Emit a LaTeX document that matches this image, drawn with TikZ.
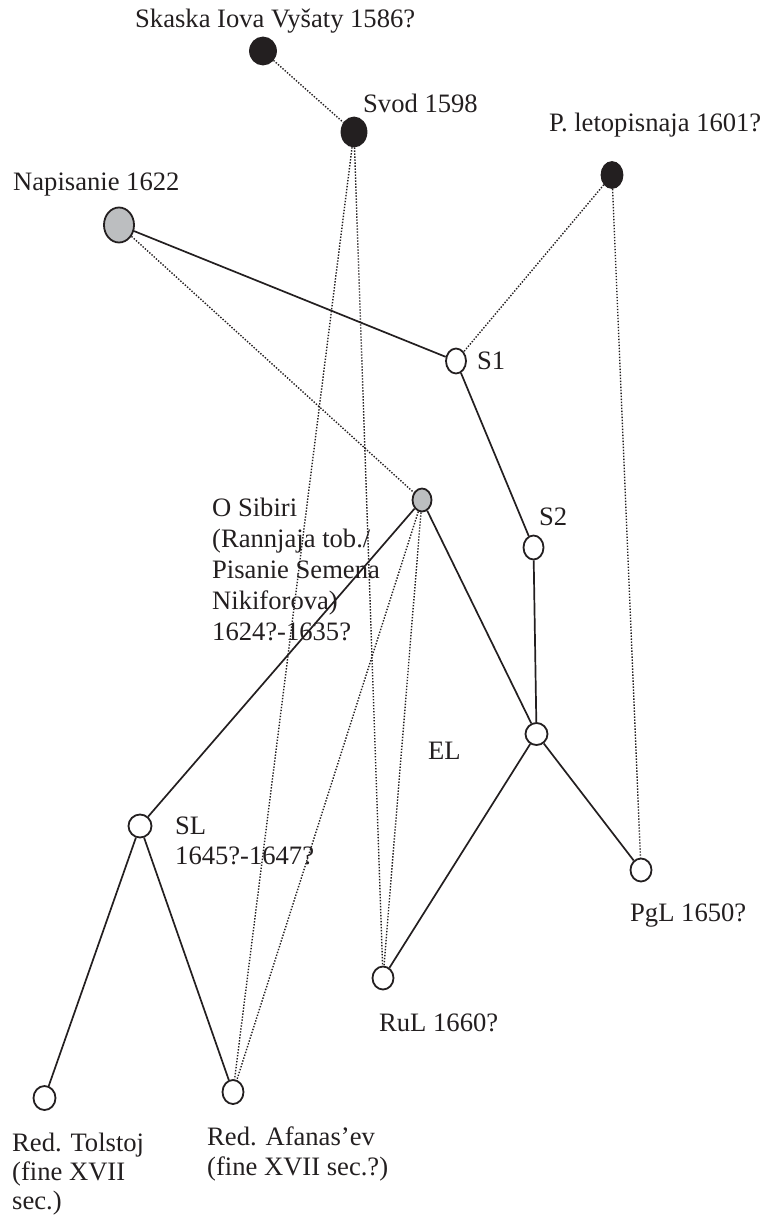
\documentclass[tikz,border=0pt]{standalone}
\usepackage{fontspec}
\setmainfont{Liberation Serif}
\usetikzlibrary{shapes.geometric}
\definecolor{ink}{HTML}{231F20}
\definecolor{shade}{HTML}{BCBEC0}
% stacked left-aligned lines whose baseline is that of the first line
\newcommand\stackedlines[2]{\vtop{\baselineskip=#1\lineskiplimit=-10pt\halign{##\hfil\cr #2\crcr}}}
\tikzset{
  ms/.style={ellipse, draw=ink, line width=1.8pt, inner sep=0pt},
  lost/.style={ms, fill=ink},
  grey/.style={ms, fill=shade},
  kept/.style={ms, fill=white},
  lbl/.style={anchor=base west, inner sep=0pt, text=ink,
              font=\fontsize{26.6pt}{31pt}\selectfont},
  filiation/.style={draw=ink, line width=1.7pt},
  borrowing/.style={draw=ink, line width=1.4pt, dash pattern=on 1.4pt off 1.6pt},
}
\begin{document}
\begin{tikzpicture}[x=1pt, y=-1pt]
\useasboundingbox (0,0) rectangle (771,1225);

% manuscripts
\node[lost, minimum width=26pt, minimum height=27pt] (sk)  at (263,51)  {};
\node[lost, minimum width=25pt, minimum height=29pt] (sv)  at (354,132) {};
\node[lost, minimum width=21pt, minimum height=26pt] (pl)  at (612,175) {};
\node[grey, minimum width=30pt, minimum height=35pt] (nap) at (119,225) {};
\node[kept, minimum width=20pt, minimum height=25pt] (s1)  at (456,361) {};
\node[grey, minimum width=19pt, minimum height=23pt] (sib) at (422,500) {};
\node[kept, minimum width=20pt, minimum height=24pt] (s2)  at (533.5,547.5) {};
\node[kept, minimum width=22pt, minimum height=22pt] (el)  at (536.5,734) {};
\node[kept, minimum width=21pt, minimum height=23pt] (pgl) at (641,870) {};
\node[kept, minimum width=23pt, minimum height=23pt] (sl)  at (140,826) {};
\node[kept, minimum width=21pt, minimum height=23pt] (rul) at (383,978) {};
\node[kept, minimum width=22pt, minimum height=24pt] (tol) at (44.5,1098) {};
\node[kept, minimum width=21pt, minimum height=24pt] (afa) at (233,1092) {};

% labels
\node[lbl] (tsk)  at (135,28)   {Skaska Iova Vyšaty 1586?};
\node[lbl] (tsv)  at (363,113)  {Svod 1598};
\node[lbl] (tpl)  at (549,132)  {P. letopisnaja 1601?};
\node[lbl] (tnap) at (13,190)   {Napisanie 1622};
\node[lbl] (ts1)  at (477,369)  {S1};
\node[lbl] (ts2)  at (539,525)  {S2};
\node[lbl] (tsib) at (212,516)  {\stackedlines{31pt}{O Sibiri\cr (Rannjaja tob./\cr Pisanie Semena\cr Nikiforova)\cr 1624?-1635?}};
\node[lbl] (tel)  at (428,759)  {EL};
\node[lbl] (tsl)  at (175,834)  {\stackedlines{30pt}{SL\cr 1645?-1647?}};
\node[lbl] (tpgl) at (630,921)  {PgL 1650?};
\node[lbl] (trul) at (379,1031) {RuL 1660?};
\node[lbl] (ttol) at (12,1151)  {\stackedlines{29pt}{Red. Tolstoj\cr (fine XVII\cr sec.)}};
\node[lbl] (tafa) at (207,1145) {\stackedlines{30pt}{Red. Afanas’ev\cr (fine XVII sec.?)}};

% direct descent
\draw[filiation] (nap) -- (s1);
\draw[filiation] (s1)  -- (s2);
\draw[filiation] (s2)  -- (el);
\draw[filiation] (sib) -- (el);
\draw[filiation] (sib) -- (sl);
\draw[filiation] (el)  -- (rul);
\draw[filiation] (el)  -- (pgl);
\draw[filiation] (sl)  -- (tol);
\draw[filiation] (sl)  -- (afa);

% secondary use of sources
\draw[borrowing] (sk)  -- (sv);
\draw[borrowing] (nap) -- (sib);
\draw[borrowing] (pl)  -- (s1);
\draw[borrowing] (pl)  -- (pgl);
\draw[borrowing] (sv)  -- (afa);
\draw[borrowing] (sv)  -- (rul);
\draw[borrowing] (sib) -- (afa);
\draw[borrowing] (sib) -- (rul);
\end{tikzpicture}
\end{document}
